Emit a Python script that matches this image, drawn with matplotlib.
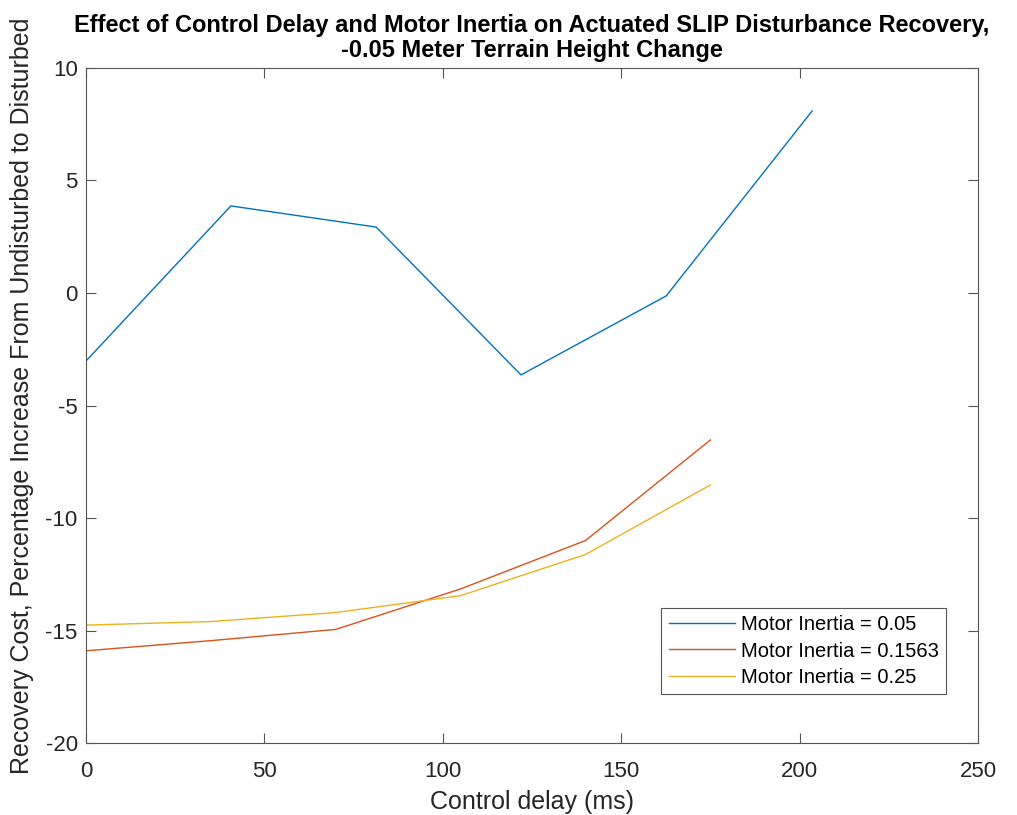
import matplotlib
matplotlib.use("Agg")
import matplotlib.pyplot as plt

plt.rcParams['font.family'] = ['Liberation Sans', 'DejaVu Sans']
plt.rcParams['axes.unicode_minus'] = False

delay_blue = [0, 40.6, 81.3, 121.9, 162.6, 203.5]
cost_blue = [-3.02, 3.87, 2.93, -3.64, -0.13, 8.09]
delay_other = [0, 35, 70, 105, 140, 175]
cost_red = [-15.9, -15.45, -14.95, -13.15, -11.0, -6.53]
cost_yellow = [-14.76, -14.6, -14.2, -13.45, -11.62, -8.53]
labels = ['Motor Inertia = 0.05', 'Motor Inertia = 0.1563', 'Motor Inertia = 0.25']
colors = ['#0072BD', '#D95319', '#EDB120']

fig = plt.figure(figsize=(10.17, 8.15), dpi=100)
ax = fig.add_axes([0.0846, 0.0883, 0.9617 - 0.0846, 0.9166 - 0.0883])
ax.plot(delay_blue, cost_blue, color=colors[0], lw=1.0, label=labels[0])
ax.plot(delay_other, cost_red, color=colors[1], lw=1.0, label=labels[1])
ax.plot(delay_other, cost_yellow, color=colors[2], lw=1.0, label=labels[2])

ax.set_xlim(0, 250)
ax.set_ylim(-20, 10)
ax.set_xticks([0, 50, 100, 150, 200, 250])
ax.set_yticks([-20, -15, -10, -5, 0, 5, 10])
ax.tick_params(direction='in', top=True, right=True, labelsize=16, colors='#555555',
               labelcolor='#262626', length=7, width=0.8)
ax.tick_params(axis='x', pad=13)
ax.tick_params(axis='y', pad=6)
for s in ax.spines.values():
    s.set_color('#555555')
    s.set_linewidth(0.8)

ax.set_xlabel('Control delay (ms)', fontsize=18, color='#262626', labelpad=6)
ax.set_ylabel('Recovery Cost, Percentage Increase From Undisturbed to Disturbed', fontsize=18,
              color='#262626')
ax.yaxis.set_label_coords(-0.058, 0.515)
ax.set_title('Effect of Control Delay and Motor Inertia on Actuated SLIP Disturbance Recovery,\n-0.05 Meter Terrain Height Change',
             fontsize=17, fontweight='bold', color='black', pad=8, linespacing=1.08)

leg = ax.legend(loc='lower right', bbox_to_anchor=(0.964, 0.0726), borderaxespad=0, fontsize=14.5,
                frameon=True, fancybox=False, framealpha=1,
                edgecolor='#555555', handlelength=3.3, borderpad=0.35, labelspacing=0.37, handletextpad=0.3)
leg.get_frame().set_linewidth(0.8)

fig.savefig('out.png', dpi=100)
